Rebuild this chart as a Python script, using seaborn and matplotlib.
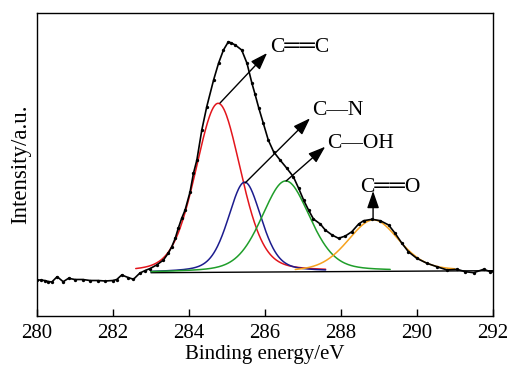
import numpy as np
import pandas as pd
import matplotlib
matplotlib.use("Agg")
import matplotlib.pyplot as plt
import seaborn as sns

energy = [280.0, 280.1, 280.2, 280.3, 280.39, 280.53, 280.69, 280.83, 281.0, 281.2,
          281.4, 281.6, 281.8, 282.0, 282.1, 282.23, 282.4, 282.54, 282.71, 282.85,
          282.98, 283.15, 283.33, 283.46, 283.55, 283.64, 283.72, 283.81, 283.9, 284.03,
          284.12, 284.21, 284.34, 284.47, 284.65, 284.78, 284.91, 285.04, 285.12, 285.22,
          285.39, 285.53, 285.66, 285.74, 285.84, 285.96, 286.09, 286.23, 286.4, 286.58,
          286.75, 286.89, 287.02, 287.15, 287.28, 287.46, 287.59, 287.77, 287.94, 288.12,
          288.29, 288.47, 288.6, 288.82, 289.04, 289.26, 289.43, 289.61, 289.78, 290.0,
          290.27, 290.53, 290.8, 291.06, 291.28, 291.5, 291.76, 291.94, 292.0]
intensity = [36, 36, 35.5, 34.5, 34, 39.3, 34.3, 37.7, 36.5, 36.5,
             35.5, 35.5, 35, 35.5, 36.5, 41, 38.5, 36.7, 43, 45.5,
             47.5, 51, 56, 63, 69.3, 77.7, 87.7, 97.7, 106, 124,
             142.7, 156, 186, 209.3, 236, 252.7, 266, 274.3, 273, 271,
             266, 252.7, 232.7, 222, 208, 192.7, 176, 164.3, 156, 147.7,
             139.3, 127.7, 116, 106, 97, 92, 86, 81, 77.7, 80,
             84.3, 92, 95.3, 96.7, 95.3, 91, 82.7, 72.7, 64.3, 57.7,
             52.7, 49.3, 46, 46.7, 44.3, 43.3, 46.7, 44.3, 45]

# ---- linear background ----
baseline_x = [283.0, 292.0]
baseline_y = [43.3, 45.3]

# ---- fitted components ----
peak_names = ["C=C", "C-N", "C-OH", "C=O"]
peak_centers = [284.77, 285.47, 286.55, 288.86]
peak_heights = [169.0, 90.0, 91.0, 51.5]
peak_fwhm = [1.40, 1.03, 1.50, 1.60]
peak_mix = [0.25, 0.35, 0.3, 0.3]
peak_ranges = [(282.6, 287.6), (283.0, 287.6), (283.0, 289.3), (286.8, 291.0)]
peak_colors = ["#e3151c", "#1c1c8e", "#1f9e2a", "#f6a21e"]

# ---- annotations ----
label_texts = ["C\u2550\u2550C", "C\u2014N", "C\u2014OH", "C\u2550\u2550O"]
arrow_tails = [(284.82, 213), (285.48, 133), (286.56, 135), (288.85, 97)]
arrow_heads = [(286.06, 263), (287.19, 197.7), (287.59, 169.3), (288.85, 125)]
label_pos = [(286.14, 264.3), (287.24, 201), (287.63, 167.7), (288.51, 124.0)]

sns.set_theme(style="white")
plt.rcParams["font.family"] = ["Liberation Serif", "DejaVu Sans"]

fig = plt.figure(figsize=(5.11, 3.65), dpi=100)
ax = fig.add_axes([37 / 511, 49 / 365, (492.7 - 37) / 511, (316 - 13) / 365])


def bg(x):
    return np.interp(x, baseline_x, baseline_y, left=baseline_y[0], right=baseline_y[1])


def pv(x, c, h, f, eta):
    g = np.exp(-4 * np.log(2) * (x - c) ** 2 / f ** 2)
    l = 1.0 / (1.0 + 4 * (x - c) ** 2 / f ** 2)
    return h * ((1 - eta) * g + eta * l)


# background line
ax.plot(baseline_x, baseline_y, color="black", lw=1.0, zorder=2)

# components
for name, c, h, f, eta, rng, col in zip(peak_names, peak_centers, peak_heights,
                                         peak_fwhm, peak_mix, peak_ranges, peak_colors):
    xs = np.linspace(rng[0], rng[1], 300)
    dfc = pd.DataFrame({"x": xs, "y": bg(xs) + pv(xs, c, h, f, eta)})
    sns.lineplot(data=dfc, x="x", y="y", ax=ax, color=col, lw=1.1, zorder=3,
                 estimator=None, sort=False)

# measured data
df = pd.DataFrame({"energy": energy, "intensity": intensity})
sns.lineplot(data=df, x="energy", y="intensity", ax=ax, color="black", lw=1.2,
             marker="o", markersize=2.4, markeredgewidth=0, zorder=4,
             estimator=None, sort=False)

# annotations
for txt, tail, head, pos in zip(label_texts, arrow_tails, arrow_heads, label_pos):
    ax.annotate("", xy=head, xytext=tail,
                arrowprops=dict(arrowstyle="-|>,head_length=0.8,head_width=0.28",
                                color="black", lw=1.0, shrinkA=0, shrinkB=0,
                                mutation_scale=13), zorder=5)
    ax.text(pos[0], pos[1], txt, fontsize=15.5, ha="left", va="baseline",
            color="black", zorder=6)

ax.set_xlim(280, 292)
ax.set_ylim(0, 303)
ax.set_xticks([280, 282, 284, 286, 288, 290, 292])
ax.set_yticks([])
ax.tick_params(axis="x", direction="in", length=5, width=1, labelsize=15,
               bottom=True, top=False, pad=6, colors="black")
for s in ax.spines.values():
    s.set_color("black")
    s.set_linewidth(1.0)
ax.set_xlabel("Binding energy/eV", fontsize=15, labelpad=1, color="black")
ax.set_ylabel("Intensity/a.u.", fontsize=16.5, labelpad=4, color="black")

fig.savefig("out.png", dpi=100)
